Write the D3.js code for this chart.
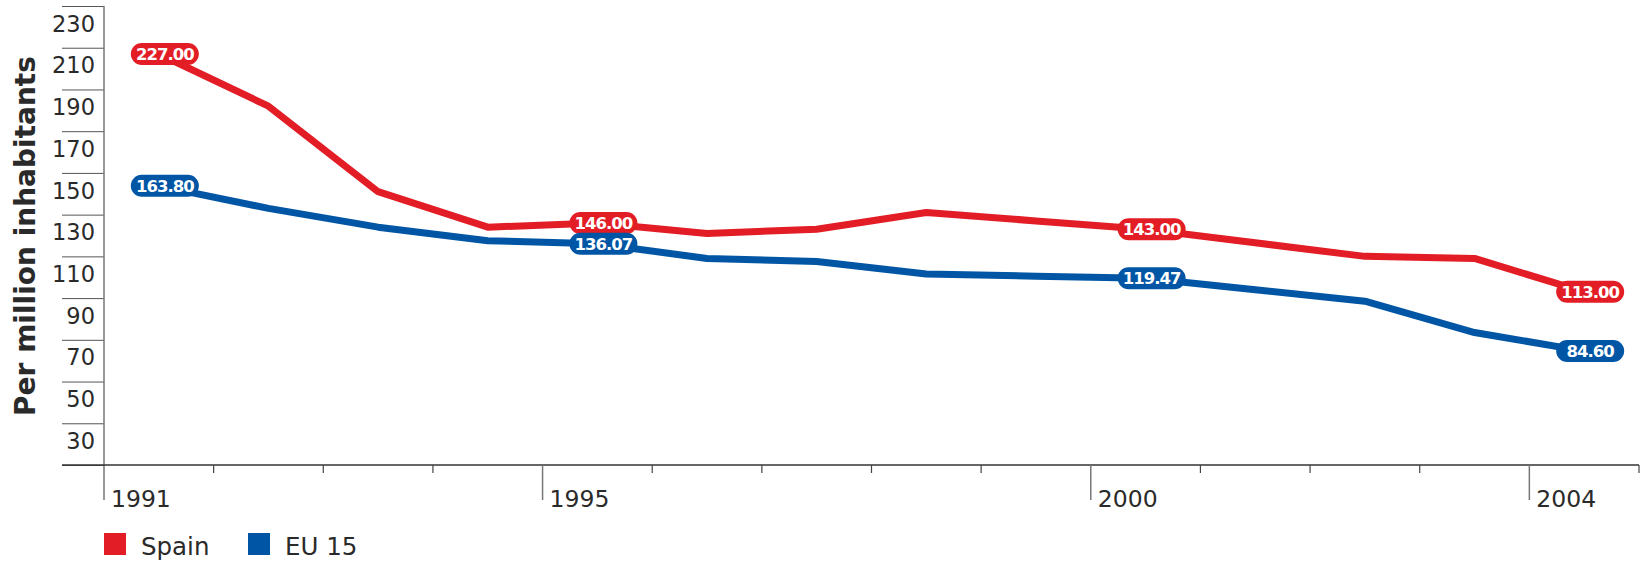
<!DOCTYPE html>
<html>
<head>
<meta charset="utf-8">
<script src="https://cdn.jsdelivr.net/npm/d3@7"></script>
<style>
  html, body { margin: 0; padding: 0; background: #fff; }
  svg { display: block; }
  text { font-family: "DejaVu Sans", Verdana, sans-serif; }
</style>
</head>
<body>
<svg id="chart" width="1647" height="564"></svg>
<script>
// ---- data ----
const years = [1991, 1992, 1993, 1994, 1995, 1996, 1997, 1998, 1999, 2000, 2001, 2002, 2003, 2004];
const spain = [227, 202, 161, 144, 146, 141, 143, 151, 147, 143, 136.5, 130, 129, 113];
const eu15 = [163.8, 153, 144, 137.5, 136.07, 129, 127.5, 121.5, 120.5, 119.47, 114, 108.5, 93.5, 84.6];
const labelledYears = [1991, 1995, 2000, 2004];
const yTickValues = [30, 50, 70, 90, 110, 130, 150, 170, 190, 210, 230, 250];
const yTickLabels = [30, 50, 70, 90, 110, 130, 150, 170, 190, 210, 230];
const xTickLabels = ["1991", "1995", "2000", "2004"];
const seriesNames = ["Spain", "EU 15"];
const seriesColors = ["#e31d25", "#0055a5"];
const yTitle = "Per million inhabitants";

(function () {
const svg = d3.select("#chart");
const pLeft = 104, pRight = 1639, pTop = 6, pBottom = 465;

const x = d3.scaleBand().domain(years).range([pLeft, pRight]).paddingInner(0).paddingOuter(0);
const y = d3.scaleLinear().domain([30, 250]).range([pBottom, pTop]);
const cx = d => x(d) + x.bandwidth() / 2;

const textColor = "#2a2a2a";

// y axis tick lines (extend to the left)
const yAxis = d3.axisLeft(y).tickValues(yTickValues).tickSize(42).tickSizeOuter(0).tickFormat("");
const gy = svg.append("g").attr("transform", `translate(${pLeft},0)`).call(yAxis);
gy.select(".domain").remove();
gy.selectAll(".tick line").attr("stroke", "#555").attr("stroke-width", 1);

// y axis vertical line (extends below baseline as 1991 long tick)
svg.append("line")
  .attr("x1", pLeft).attr("x2", pLeft)
  .attr("y1", pTop).attr("y2", 500)
  .attr("stroke", "#777").attr("stroke-width", 1.5);

// y labels centred within bands
svg.append("g").selectAll("text").data(yTickLabels).join("text")
  .attr("x", 95)
  .attr("y", d => y(d + 10) + 4.8)
  .attr("text-anchor", "end")
  .attr("font-size", 22.5)
  .attr("fill", textColor)
  .text(d => d);

// x axis baseline
svg.append("line")
  .attr("x1", 62).attr("x2", pRight)
  .attr("y1", pBottom).attr("y2", pBottom)
  .attr("stroke", "#333").attr("stroke-width", 1.5);

// x ticks at band boundaries
const boundaries = years.map(d => x(d)).concat([pRight]);
const boundaryYears = years.concat([years[years.length - 1] + 1]);
svg.append("g").selectAll("line").data(boundaryYears.slice(1)).join("line")
  .attr("x1", (d, i) => boundaries[i + 1]).attr("x2", (d, i) => boundaries[i + 1])
  .attr("y1", pBottom)
  .attr("y2", d => xTickLabels.includes(String(d)) ? 500 : pBottom + 8)
  .attr("stroke", d => xTickLabels.includes(String(d)) ? "#777" : "#444")
  .attr("stroke-width", d => xTickLabels.includes(String(d)) ? 1.5 : 1.2);

// x labels
svg.append("g").selectAll("text").data(xTickLabels).join("text")
  .attr("x", d => x(+d) + 7)
  .attr("y", 506.5)
  .attr("font-size", 23.5)
  .attr("fill", textColor)
  .text(d => d);

// y title
svg.append("text")
  .attr("transform", "translate(35,236) rotate(-90)")
  .attr("text-anchor", "middle")
  .attr("font-size", 28)
  .attr("font-weight", "bold")
  .attr("fill", textColor)
  .text(yTitle);

// lines
const line = d3.line().x((d, i) => cx(years[i])).y(d => y(d));
const allSeries = [spain, eu15];
allSeries.forEach((s, k) => {
  svg.append("path")
    .datum(s)
    .attr("d", line)
    .attr("fill", "none")
    .attr("stroke", seriesColors[k])
    .attr("stroke-width", 7)
    .attr("stroke-linejoin", "round")
    .attr("stroke-linecap", "butt");
});

// value pills
allSeries.forEach((s, k) => {
  const g = svg.append("g");
  labelledYears.forEach(yr => {
    const i = years.indexOf(yr);
    const v = s[i];
    const px = cx(yr) + 6, py = y(v);
    const pg = g.append("g").attr("transform", `translate(${px},${py})`);
    pg.append("text")
      .attr("text-anchor", "middle")
      .attr("dy", "0.37em")
      .attr("font-size", 16.5)
      .attr("font-weight", "bold")
      .attr("letter-spacing", -1)
      .attr("fill", "#fff")
      .text(d3.format(".2f")(v));
    const w = 68, h = 22;
    pg.insert("rect", "text")
      .attr("x", -w / 2).attr("y", -h / 2)
      .attr("width", w).attr("height", h)
      .attr("rx", h / 2).attr("ry", h / 2)
      .attr("fill", seriesColors[k]);
  });
});

// legend
const legend = svg.append("g");
const legendX = [104, 248];
seriesNames.forEach((name, k) => {
  legend.append("rect")
    .attr("x", legendX[k]).attr("y", 533)
    .attr("width", 22).attr("height", 22)
    .attr("fill", seriesColors[k]);
  legend.append("text")
    .attr("x", legendX[k] + 37).attr("y", 555)
    .attr("font-size", 24.5)
    .attr("fill", textColor)
    .text(name);
});
})();
</script>
</body>
</html>
